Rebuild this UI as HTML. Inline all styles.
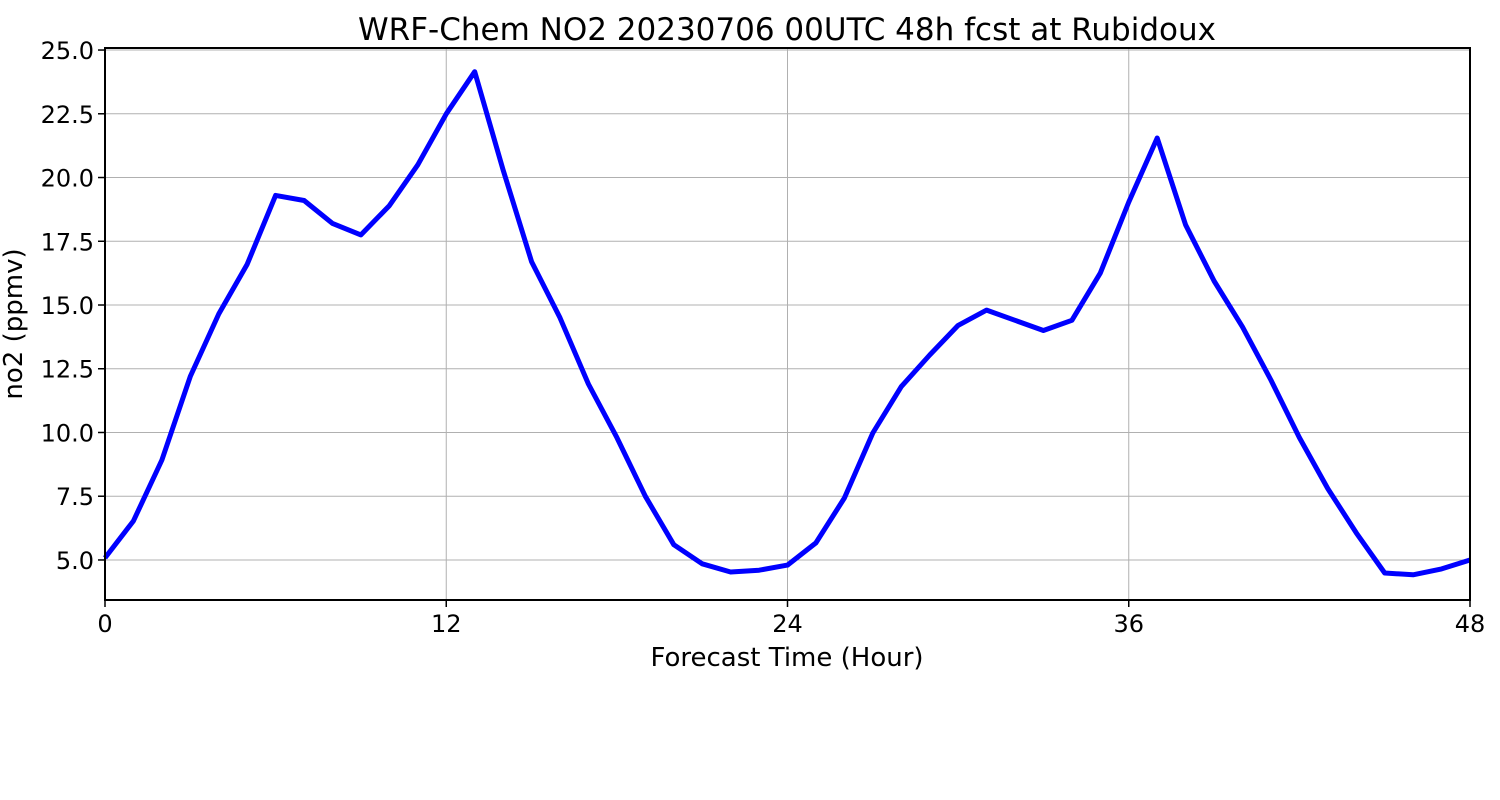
<!DOCTYPE html>
<html><head><meta charset="utf-8"><style>
body{margin:0;background:#fff;}
svg{display:block;font-family:"DejaVu Sans","Liberation Sans",sans-serif;}
</style></head><body>
<svg id="chart" width="1500" height="800">
<rect width="1500" height="800" fill="#fff"/>
<text x="787" y="40" font-size="31" text-anchor="middle">WRF-Chem NO2  20230706 00UTC 48h fcst at Rubidoux</text>
<g id="grid"></g>
<g id="ticks"></g>
<path id="line" fill="none" stroke="#0000ff" stroke-width="5" stroke-linejoin="round"/>
<rect x="105" y="48" width="1365" height="552" fill="none" stroke="#000" stroke-width="2"/>
<text x="787" y="666" font-size="26" text-anchor="middle">Forecast Time (Hour)</text>
<text transform="translate(22,324) rotate(-90)" font-size="26" text-anchor="middle">no2  (ppmv)</text>
</svg>
<script>
const hours=[0,1,2,3,4,5,6,7,8,9,10,11,12,13,14,15,16,17,18,19,20,21,22,23,24,25,26,27,28,29,30,31,32,33,34,35,36,37,38,39,40,41,42,43,44,45,46,47,48];
const no2=[5.08,6.53,8.92,12.2,14.65,16.6,19.3,19.1,18.2,17.75,18.9,20.5,22.5,24.15,20.3,16.7,14.5,11.9,9.8,7.5,5.6,4.85,4.53,4.6,4.8,5.67,7.43,9.98,11.8,13.04,14.2,14.8,14.4,14.0,14.4,16.25,19.04,21.55,18.14,15.94,14.14,12.06,9.8,7.8,6.06,4.49,4.42,4.65,5.0];
const xTicks=[0,12,24,36,48];
const yTicks=[5.0,7.5,10.0,12.5,15.0,17.5,20.0,22.5,25.0];
const xMin=0,xMax=48,yMin=3.43,yMax=25.08;
const L=105,R=1470,T=48,B=600;
const sx=v=>L+(v-xMin)/(xMax-xMin)*(R-L);
const sy=v=>B-(v-yMin)/(yMax-yMin)*(B-T);
const NS="http://www.w3.org/2000/svg";
const grid=document.getElementById('grid'),ticks=document.getElementById('ticks');
function mk(tag,attrs,parent){const e=document.createElementNS(NS,tag);for(const k in attrs)e.setAttribute(k,attrs[k]);parent.appendChild(e);return e;}
xTicks.forEach(t=>{
  const g=mk('line',{x1:sx(t),x2:sx(t),y1:T,y2:B,stroke:'#b0b0b0','stroke-width':1},grid);
  
  
  mk('line',{x1:sx(t),x2:sx(t),y1:B,y2:B+7,stroke:'#000','stroke-width':1.5},ticks);
  const tx=mk('text',{x:sx(t),y:B+32,'font-size':24,'text-anchor':'middle'},ticks);
  tx.textContent=t;
  
  
});
yTicks.forEach(t=>{
  const g=mk('line',{x1:L,x2:R,y1:sy(t),y2:sy(t),stroke:'#b0b0b0','stroke-width':1},grid);
  
  
  mk('line',{x1:L-7,x2:L,y1:sy(t),y2:sy(t),stroke:'#000','stroke-width':1.5},ticks);
  const tx=mk('text',{x:L-11,y:sy(t)+9,'font-size':24,'text-anchor':'end'},ticks);
  tx.textContent=t.toFixed(1);
  
  
});
document.getElementById('line').setAttribute('d',hours.map((h,i)=>(i?'L':'M')+sx(h).toFixed(1)+','+sy(no2[i]).toFixed(1)).join(''));
</script>
</body></html>
